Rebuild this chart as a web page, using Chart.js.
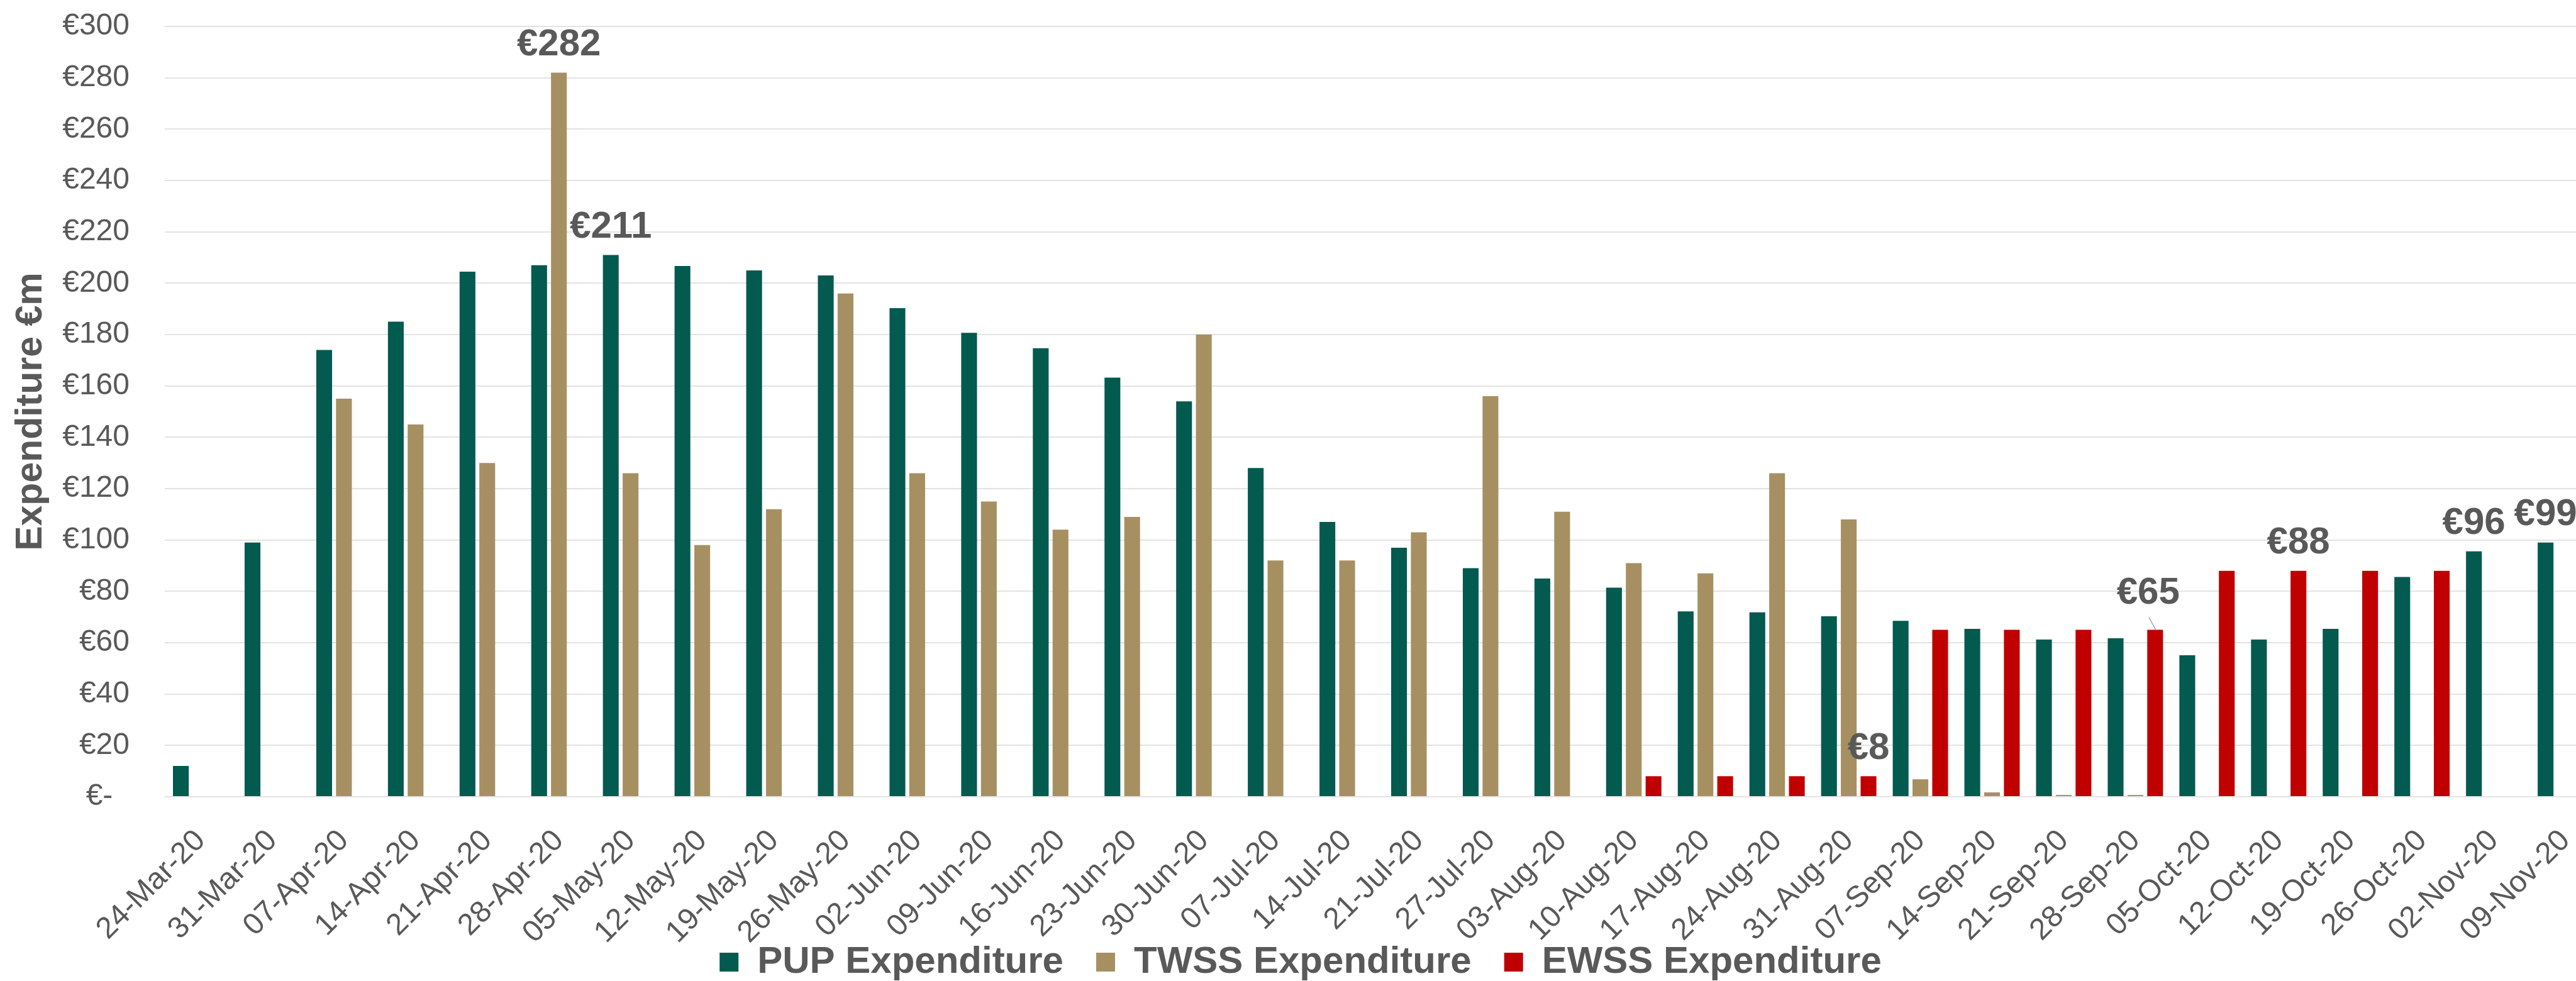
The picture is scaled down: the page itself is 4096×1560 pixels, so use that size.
<!DOCTYPE html>
<html>
<head>
<meta charset="utf-8">
<title>PUP, TWSS and EWSS expenditure</title>
<script src="https://cdn.jsdelivr.net/npm/chart.js@4.4.1/dist/chart.umd.min.js"></script>
<style>
    html, body { margin: 0; padding: 0; background: #fff; overflow: hidden; }
    #wrap { width: 4136px; height: 1570px; }
</style>
</head>
<body>
<div id="wrap"><canvas id="barChart" width="4136" height="1570"></canvas></div>
<script>
const weeks = ['24-Mar-20', '31-Mar-20', '07-Apr-20', '14-Apr-20', '21-Apr-20', '28-Apr-20',
    '05-May-20', '12-May-20', '19-May-20', '26-May-20', '02-Jun-20', '09-Jun-20', '16-Jun-20',
    '23-Jun-20', '30-Jun-20', '07-Jul-20', '14-Jul-20', '21-Jul-20', '27-Jul-20', '03-Aug-20',
    '10-Aug-20', '17-Aug-20', '24-Aug-20', '31-Aug-20', '07-Sep-20', '14-Sep-20', '21-Sep-20',
    '28-Sep-20', '05-Oct-20', '12-Oct-20', '19-Oct-20', '26-Oct-20', '02-Nov-20', '09-Nov-20'];

const pupValues = [12, 99, 174, 185, 204.5, 207, 211, 206.7, 205, 203, 190.3, 180.7, 174.7,
    163.2, 154, 128, 107, 97, 89, 85, 81.4, 72.2, 71.8, 70.3, 68.5, 65.4, 61.2, 61.7, 55.1,
    61.2, 65.4, 85.6, 95.6, 99];

const twssValues = [null, null, 155, 145, 130, 282, 126, 98, 112, 196, 126, 115, 104, 109, 180,
    92, 92, 103, 156, 111, 91, 87, 126, 108, 6.8, 1.7, 0.7, 0.7, null, null, null, null, null, null];

const ewssValues = [null, null, null, null, null, null, null, null, null, null, null, null, null,
    null, null, null, null, null, null, null, 8, 8, 8, 8, 65, 65, 65, 65, 88, 88, 88, 88, null, null];

const seriesNames = ['PUP Expenditure', 'TWSS Expenditure', 'EWSS Expenditure'];

// which bars carry a value label, per series
const pupLabelled = [6, 32, 33];
const twssLabelled = [5];
const ewssLabelled = [23, 27, 29];

const yMax = 300;
const yStep = 20;

const TEXT = '#595959';
const FONT = '"Liberation Sans", Arial, sans-serif';

Chart.defaults.font.family = FONT;
Chart.defaults.color = TEXT;

const valueLabels = {
    id: 'valueLabels',
    afterDatasetsDraw(chart) {
        const ctx = chart.ctx;
        const labelled = [pupLabelled, twssLabelled, ewssLabelled];
        ctx.save();
        ctx.font = 'bold 60px ' + FONT;
        ctx.fillStyle = TEXT;
        ctx.textAlign = 'center';
        ctx.textBaseline = 'middle';
        labelled.forEach((idxs, ds) => {
            const meta = chart.getDatasetMeta(ds);
            idxs.forEach(i => {
                const bar = meta.data[i];
                const v = chart.data.datasets[ds].data[i];
                let x = bar.x;
                let y = bar.y - 44;
                if (ds === 2 && i === 27) {
                    // this one was dragged up in the original, with a leader line
                    x -= 11;
                    y = bar.y - 58;
                    ctx.strokeStyle = '#a6a6a6';
                    ctx.lineWidth = 1.5;
                    ctx.beginPath();
                    ctx.moveTo(bar.x - 10, bar.y - 20);
                    ctx.lineTo(bar.x + 1, bar.y);
                    ctx.stroke();
                }
                ctx.fillText('€' + Math.round(v), x, y);
            });
        });
        ctx.restore();
    }
};

class ExpenditureChart {
    constructor(canvasId) {
        this.ctx = document.getElementById(canvasId);
    }

    createChart() {
        const colours = ['#035a4f', '#a69062', '#c00000'];
        const values = [pupValues, twssValues, ewssValues];
        new Chart(this.ctx, {
            type: 'bar',
            data: {
                labels: weeks,
                datasets: seriesNames.map((name, k) => ({
                    label: name,
                    data: values[k],
                    backgroundColor: colours[k],
                    borderWidth: 0,
                    categoryPercentage: 0.827,
                    barPercentage: 0.8
                }))
            },
            options: {
                responsive: false,
                animation: false,
                layout: { padding: { top: 42, left: 0, right: 0, bottom: 0 } },
                plugins: {
                    tooltip: { enabled: false },
                    legend: {
                        position: 'bottom',
                        labels: {
                            boxWidth: 30,
                            boxHeight: 30,
                            padding: 52,
                            color: TEXT,
                            font: { size: 60, weight: 'bold' }
                        }
                    }
                },
                scales: {
                    x: {
                        grid: { display: false },
                        border: { display: false },
                        ticks: {
                            autoSkip: false,
                            maxRotation: 45,
                            minRotation: 45,
                            padding: 34,
                            color: TEXT,
                            font: { size: 48 }
                        },
                        afterFit: s => {
                            s.height = 181;
                            // plot runs to the canvas edge like the cropped original
                            s.paddingLeft = 0;
                            s.paddingRight = 0;
                            // labels run down past the scale box, don't clip them
                            s._computeLabelArea = () => undefined;
                        }
                    },
                    y: {
                        min: 0,
                        max: yMax,
                        border: { display: false },
                        grid: {
                            color: '#e3e3e3',
                            lineWidth: 2,
                            drawTicks: true,
                            tickLength: 53,
                            tickColor: 'rgba(0,0,0,0)'
                        },
                        ticks: {
                            stepSize: yStep,
                            padding: 3,
                            color: TEXT,
                            font: { size: 48 },
                            callback: v => v === 0 ? '€-  ' : '€' + v
                        },
                        title: {
                            display: true,
                            text: 'Expenditure €m',
                            color: TEXT,
                            font: { size: 59, weight: 'bold' },
                            padding: { top: 14, bottom: 0 }
                        },
                        afterFit: s => { s.width = 262; }
                    }
                }
            },
            plugins: [valueLabels]
        });
    }
}

const expenditureChart = new ExpenditureChart('barChart');
expenditureChart.createChart();
</script>
</body>
</html>
